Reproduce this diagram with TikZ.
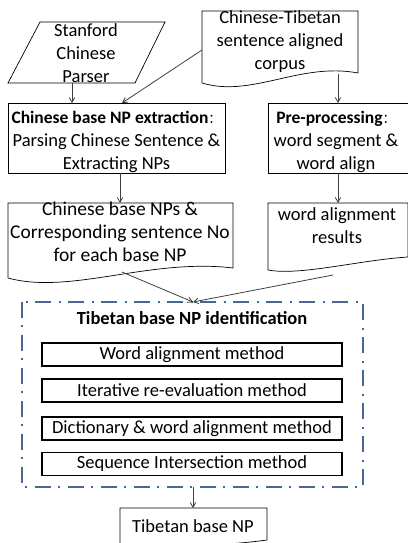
\documentclass[tikz,border=0pt]{standalone}
\usepackage{fontspec}
\setmainfont{Carlito}
\newfontfamily\cjk{Noto Sans CJK SC}
\usetikzlibrary{arrows.meta}
\definecolor{dashblue}{RGB}{72,102,150}
\definecolor{linegray}{RGB}{64,64,64}
\newcommand{\fwcolon}{{\cjk\fontsize{13}{13}\selectfont ：}}
\begin{document}
\begin{tikzpicture}[x=1pt,y=-1pt,
  font=\fontsize{18.5}{23}\selectfont,
  txt/.style={align=center,inner sep=0pt,text depth=0pt},
  outl/.style={draw=black,line width=0.7pt},
  conn/.style={draw=linegray,line width=0.8pt,-{Straight Barb[angle=60:5.5pt]}},
  method/.style={draw=black,line width=1.6pt,minimum width=300pt,minimum height=23pt,inner sep=0pt},
  groupbox/.style={draw=dashblue,line width=1.8pt,dash pattern=on 16pt off 7pt on 2pt off 8pt}]
\useasboundingbox (0,0) rectangle (407,543);
\fill[white] (0,0) rectangle (407,543);

% Stanford Chinese Parser (parallelogram)
\draw[outl] (40,22) -- (165,22) -- (135,83) -- (8,83) -- cycle;
\node[txt] (parser) at (86,53) {Stanford\\Chinese\\Parser};
\coordinate (parserB) at (72,83);

% Corpus (document shape)
\draw[outl] (202,83) -- (202,11) -- (358,11) -- (358,73)
  .. controls (300,62) and (252,98) .. (202,83);
\node[txt] (corpus) at (280,40) {Chinese-Tibetan\\sentence aligned\\corpus};
\coordinate (corpusL) at (202,50);
\coordinate (corpusB) at (338,74);

% Chinese base NP extraction
\draw[outl] (8,103) rectangle (225,173);
\node[txt] (extract) at (116.5,140) {{\fontsize{17.5}{23}\selectfont\bfseries Chinese base NP extraction}\fwcolon\\Parsing Chinese Sentence \&\\Extracting NPs};
\coordinate (extractT1) at (72,103);
\coordinate (extractT2) at (122,103);
\coordinate (extractB) at (120,173);

% Pre-processing
\draw[outl] (268,103) rectangle (408,173);
\node[txt] (prep) at (336,140) {{\fontsize{17.5}{23}\selectfont\bfseries Pre-processing}\fwcolon\\word segment \&\\word align};
\coordinate (prepT) at (338,103);
\coordinate (prepB) at (338,173);

% Chinese base NPs document
\draw[outl] (8,278) -- (8,203) -- (233,203) -- (233,268)
  .. controls (150,258) and (70,295) .. (8,278);
\node[txt,font=\fontsize{19.5}{23}\selectfont] (nps) at (120,232) {Chinese base NPs \&\\Corresponding sentence No\\for each base NP};
\coordinate (npsT) at (120,203);
\coordinate (npsB) at (122,272);

% word alignment results document
\draw[outl] (268,270) -- (268,203) -- (408,203) -- (408,257)
  .. controls (360,260) and (300,276) .. (268,270);
\node[txt] (war) at (337,226) {word alignment\\results};
\coordinate (warT) at (338,203);
\coordinate (warB) at (333,275);

% Tibetan base NP identification group
\draw[groupbox] (22,302) rectangle (363,487);
\node[txt,font=\fontsize{18.5}{23}\selectfont\bfseries] (title) at (192,318) {Tibetan base NP identification};
\coordinate (groupT) at (193,302);
\coordinate (groupB) at (193,487);
\node[method] (m1) at (192,354.5) {Word alignment method};
\node[method] (m2) at (192,390.5) {Iterative re-evaluation method};
\node[method] (m3) at (192,428.5) {Dictionary \& word alignment method};
\node[method] (m4) at (192,464) {Sequence Intersection method};

% Tibetan base NP document
\draw[outl] (120,552) -- (120,508) -- (267,508) -- (267,540)
  .. controls (230,545) and (200,545) .. (160,550);
\node[txt] (tib) at (193,526) {Tibetan base NP};
\coordinate (tibT) at (193,508);

% connectors
\draw[conn] (parserB) -- (extractT1);
\draw[conn] (corpusL) -- (extractT2);
\draw[conn] (corpusB) -- (prepT);
\draw[conn] (extractB) -- (npsT);
\draw[conn] (prepB) -- (warT);
\draw[conn] (npsB) -- (groupT);
\draw[conn] (warB) -- (groupT);
\draw[conn] (groupB) -- (tibT);
\end{tikzpicture}
\end{document}
